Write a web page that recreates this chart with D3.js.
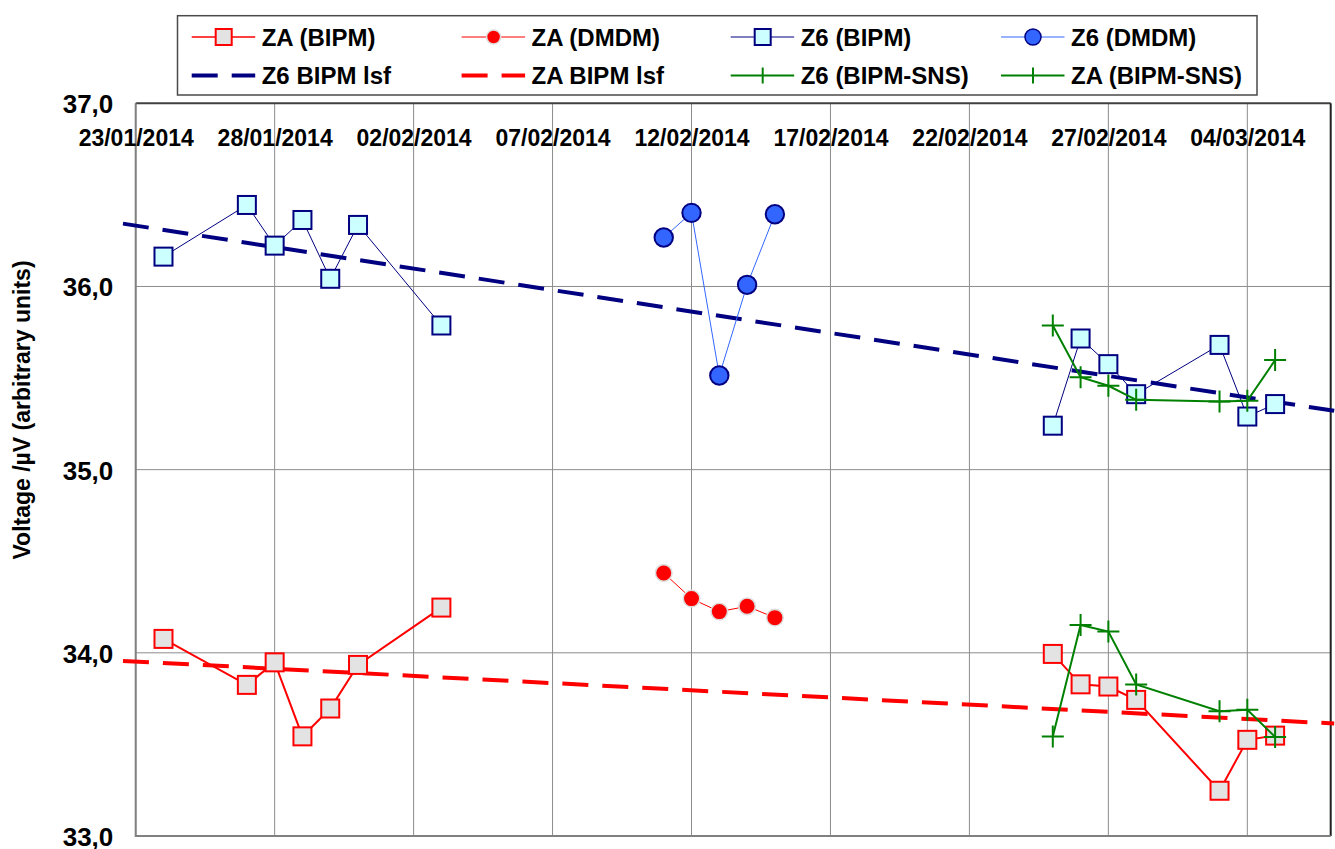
<!DOCTYPE html>
<html>
<head>
<meta charset="utf-8">
<script src="https://cdn.jsdelivr.net/npm/d3@7"></script>
<style>
	body { margin: 0; background: #fff; }
	text { font-family: "Liberation Sans", Arial, sans-serif; font-weight: bold; fill: #000; }
</style>
</head>
<body>
<svg id="chart" width="1335" height="849"></svg>
<script>
// Dates of the measurement sessions
var bipmDatesA = ['24/01/2014', '27/01/2014', '28/01/2014', '29/01/2014', '30/01/2014', '31/01/2014', '03/02/2014'];
var bipmDatesB = ['25/02/2014', '26/02/2014', '27/02/2014', '28/02/2014', '03/03/2014', '04/03/2014', '05/03/2014'];
var dmdmDates = ['11/02/2014', '12/02/2014', '13/02/2014', '14/02/2014', '15/02/2014'];
var snsDates = ['25/02/2014', '26/02/2014', '27/02/2014', '28/02/2014', '03/03/2014', '04/03/2014', '05/03/2014'];

// Voltage values (uV, arbitrary units)
var z6BipmA = [36.163, 36.445, 36.223, 36.363, 36.042, 36.336, 35.787];
var z6BipmB = [35.240, 35.716, 35.576, 35.412, 35.681, 35.290, 35.358];
var zaBipmA = [34.076, 33.825, 33.948, 33.544, 33.696, 33.934, 34.247];
var zaBipmB = [33.994, 33.828, 33.816, 33.743, 33.247, 33.525, 33.548];
var z6Dmdm = [36.267, 36.402, 35.514, 36.009, 36.394];
var zaDmdm = [34.436, 34.296, 34.225, 34.254, 34.192];
var z6Sns = [35.787, 35.505, 35.458, 35.381, 35.372, 35.376, 35.598];
var zaSns = [33.543, 34.152, 34.116, 33.827, 33.681, 33.689, 33.541];

// least squares fit lines, end points
var lsfDates = ['22/01/2014 13', '07/03/2014 03'];
var z6Lsf = [36.343, 35.321];
var zaLsf = [33.956, 33.614];

// axis ticks
var xTicks = ['23/01/2014', '28/01/2014', '02/02/2014', '07/02/2014', '12/02/2014', '17/02/2014', '22/02/2014', '27/02/2014', '04/03/2014'];
var xDomain = ['23/01/2014', '07/03/2014'];
var yTicks = [33, 34, 35, 36, 37];

var parseDay = d3.timeParse('%d/%m/%Y');
var parseHour = d3.timeParse('%d/%m/%Y %H');

var svg = d3.select('#chart');
// plot box (note: "top" is taken by window.top)
var plotL = 135.7, plotR = 1330.7, plotT = 103.3, plotB = 836;

var x = d3.scaleTime().domain(xDomain.map(parseDay)).range([plotL, plotR]);
var y = d3.scaleLinear().domain([33, 37]).range([plotB, plotT]);

function pairs(dates, values, parser){
	return dates.map(function(d, i){ return {date: (parser || parseDay)(d), value: values[i]}; });
}

var line = d3.line().x(function(d){ return x(d.date); }).y(function(d){ return y(d.value); });

// grid lines
svg.append('g').selectAll('line').data(xTicks.map(parseDay)).enter().append('line')
	.attr('x1', function(d){ return x(d); }).attr('x2', function(d){ return x(d); })
	.attr('y1', plotT).attr('y2', plotB)
	.attr('stroke', '#8c8c8c').attr('stroke-width', 1);
svg.append('g').selectAll('line').data([34, 35, 36]).enter().append('line')
	.attr('x1', plotL).attr('x2', plotR)
	.attr('y1', function(d){ return y(d); }).attr('y2', function(d){ return y(d); })
	.attr('stroke', '#8c8c8c').attr('stroke-width', 1);

// frame
svg.append('line').attr('x1', plotL).attr('x2', plotR).attr('y1', plotT).attr('y2', plotT).attr('stroke', '#404040').attr('stroke-width', 2);
svg.append('line').attr('x1', plotR).attr('x2', plotR).attr('y1', plotT).attr('y2', plotB).attr('stroke', '#202020').attr('stroke-width', 2);
svg.append('line').attr('x1', plotL).attr('x2', plotL).attr('y1', plotT).attr('y2', plotB + 1).attr('stroke', '#808080').attr('stroke-width', 2);
svg.append('line').attr('x1', plotL).attr('x2', plotR).attr('y1', plotB).attr('y2', plotB).attr('stroke', '#808080').attr('stroke-width', 2);

// x axis labels sit just under the top of the plot
var xAxis = d3.axisBottom(x).tickValues(xTicks.map(parseDay)).tickFormat(d3.timeFormat('%d/%m/%Y')).tickSize(0);
var gx = svg.append('g').attr('transform', 'translate(0,' + plotT + ')').call(xAxis);
gx.select('.domain').remove();
gx.selectAll('text').attr('y', 42.7).attr('dy', 0).style('font-size', '23px').attr('fill', '#000');

var yAxis = d3.axisLeft(y).tickValues(yTicks).tickSize(0)
	.tickFormat(function(d){ return d3.format('.1f')(d).replace('.', ','); });
var gy = svg.append('g').attr('transform', 'translate(' + plotL + ',0)').call(yAxis);
gy.select('.domain').remove();
gy.selectAll('text').attr('x', -22.4).attr('dy', '0.36em').style('font-size', '26px').attr('fill', '#000');

svg.append('text')
	.attr('transform', 'translate(29.5,410) rotate(-90)')
	.attr('text-anchor', 'middle')
	.style('font-size', '23px')
	.text('Voltage /\u00b5V (arbitrary units)');

// lsf lines
function drawLsf(values, color){
	svg.append('path').datum(pairs(lsfDates, values, parseHour))
		.attr('d', line).attr('fill', 'none')
		.attr('stroke', color).attr('stroke-width', 4).attr('stroke-dasharray', '26,14');
}
drawLsf(z6Lsf, '#000080');
drawLsf(zaLsf, '#ff0000');

// series helpers
function drawLine(data, color, width){
	svg.append('path').datum(data).attr('d', line).attr('fill', 'none')
		.attr('stroke', color).attr('stroke-width', width);
}
function drawSquares(data, fill, stroke, size){
	svg.append('g').selectAll('rect').data(data).enter().append('rect')
		.attr('x', function(d){ return x(d.date) - size / 2; })
		.attr('y', function(d){ return y(d.value) - size / 2; })
		.attr('width', size).attr('height', size)
		.attr('fill', fill).attr('stroke', stroke).attr('stroke-width', 2);
}
function drawCircles(data, fill, stroke, r, sw){
	svg.append('g').selectAll('circle').data(data).enter().append('circle')
		.attr('cx', function(d){ return x(d.date); })
		.attr('cy', function(d){ return y(d.value); })
		.attr('r', r)
		.attr('fill', fill).attr('stroke', stroke).attr('stroke-width', sw);
}
function drawPlus(data, color, size){
	svg.append('g').selectAll('path').data(data).enter().append('path')
		.attr('d', function(d){
			var cx = x(d.date), cy = y(d.value), h = size / 2;
			return 'M' + (cx - h) + ',' + cy + 'H' + (cx + h) + 'M' + cx + ',' + (cy - h) + 'V' + (cy + h);
		})
		.attr('stroke', color).attr('stroke-width', 2).attr('fill', 'none');
}

// ZA (BIPM)
[pairs(bipmDatesA, zaBipmA), pairs(bipmDatesB, zaBipmB)].forEach(function(s){
	drawLine(s, '#ff0000', 2);
	drawSquares(s, '#e3e3e3', '#ff0000', 18);
});
// ZA (DMDM)
drawLine(pairs(dmdmDates, zaDmdm), '#ff0000', 1);
drawCircles(pairs(dmdmDates, zaDmdm), '#ff0000', '#dddddd', 8.3, 1.6);

// Z6 (BIPM)
[pairs(bipmDatesA, z6BipmA), pairs(bipmDatesB, z6BipmB)].forEach(function(s){
	drawLine(s, '#000080', 1);
	drawSquares(s, '#ccffff', '#000080', 18);
});
// Z6 (DMDM)
drawLine(pairs(dmdmDates, z6Dmdm), '#3366ff', 1);
drawCircles(pairs(dmdmDates, z6Dmdm), '#3366ff', '#000080', 9.2, 2);

// BIPM-SNS
drawLine(pairs(snsDates, z6Sns), '#008000', 2);
drawPlus(pairs(snsDates, z6Sns), '#008000', 22);
drawLine(pairs(snsDates, zaSns), '#008000', 2);
drawPlus(pairs(snsDates, zaSns), '#008000', 22);

// Legend
var legendItems = [
	{name: 'ZA (BIPM)', color: '#ff0000', lw: 1.3, mark: 'square', fill: '#e3e3e3'},
	{name: 'ZA (DMDM)', color: '#ff0000', lw: 1, mark: 'circle', fill: '#ff0000', stroke: '#dddddd', r: 7},
	{name: 'Z6 (BIPM)', color: '#000080', lw: 1, mark: 'square', fill: '#ccffff'},
	{name: 'Z6 (DMDM)', color: '#3366ff', lw: 1, mark: 'circle', fill: '#3366ff', stroke: '#000080', r: 8},
	{name: 'Z6 BIPM lsf', color: '#000080', lw: 4, dash: true},
	{name: 'ZA BIPM lsf', color: '#ff0000', lw: 4, dash: true},
	{name: 'Z6 (BIPM-SNS)', color: '#008000', lw: 2, mark: 'plus'},
	{name: 'ZA (BIPM-SNS)', color: '#008000', lw: 2, mark: 'plus'}
];
var colX = [191.7, 461.6, 730.7, 1001];
var rowY = [37, 75.5];

svg.append('rect').attr('x', 177.5).attr('y', 15.7).attr('width', 1079.5).attr('height', 79.3)
	.attr('fill', '#fff').attr('stroke', '#4a4a4a').attr('stroke-width', 1.5);

legendItems.forEach(function(item, i){
	var lx = colX[i % 4], ly = rowY[Math.floor(i / 4)];
	var g = svg.append('g').attr('transform', 'translate(' + lx + ',' + ly + ')');
	g.append('line').attr('x1', 0).attr('x2', 63.5).attr('y1', 0).attr('y2', 0)
		.attr('stroke', item.color).attr('stroke-width', item.lw)
		.attr('stroke-dasharray', item.dash ? '26,14' : null);
	if (item.mark == 'square'){
		g.append('rect').attr('x', 32 - 8).attr('y', -8).attr('width', 16).attr('height', 16)
			.attr('fill', item.fill).attr('stroke', item.color).attr('stroke-width', 2);
	} else if (item.mark == 'circle'){
		g.append('circle').attr('cx', 32).attr('cy', 0).attr('r', item.r)
			.attr('fill', item.fill).attr('stroke', item.stroke).attr('stroke-width', 1.5);
	} else if (item.mark == 'plus'){
		g.append('line').attr('x1', 32).attr('x2', 32).attr('y1', -8).attr('y2', 8)
			.attr('stroke', item.color).attr('stroke-width', 2);
	}
	g.append('text').attr('x', 70).attr('y', 8.8).style('font-size', '24px').text(item.name);
});
</script>
</body>
</html>
